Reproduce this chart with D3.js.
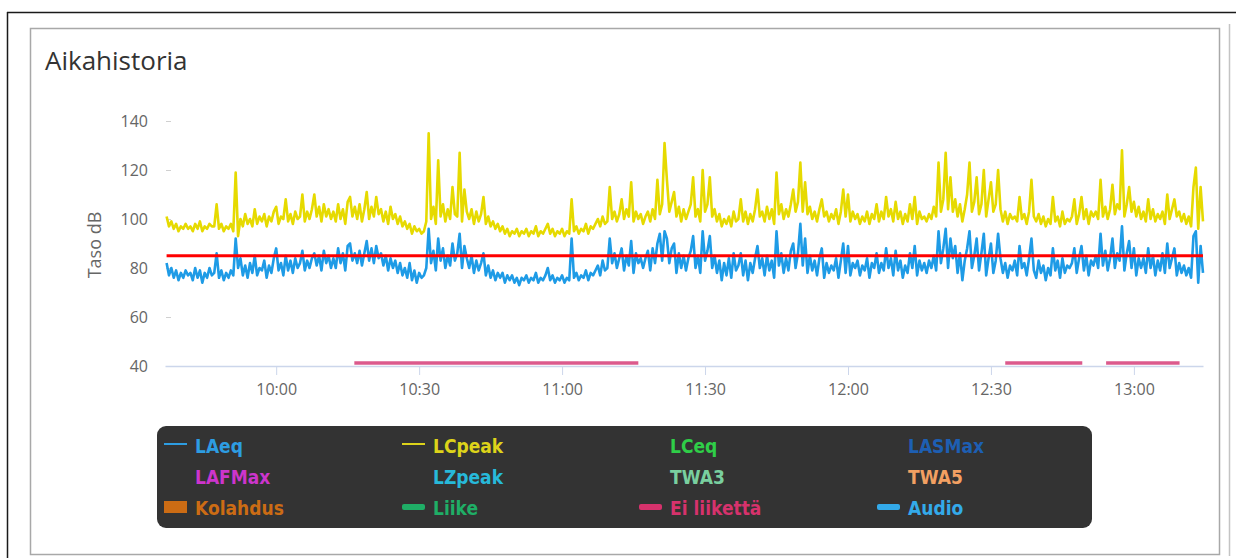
<!DOCTYPE html>
<html><head><meta charset="utf-8">
<script src="https://cdn.jsdelivr.net/npm/d3@7"></script>
<style>body{margin:0;background:#fff}svg{display:block}</style>
</head><body><svg id="c" width="1236" height="558"></svg>
<script>
// ---- data ----
const startTime = "09:37:00";
const stepSeconds = 30;
const lcpeak = [
101,97,99,96,98,95,97,96,98,96,
97,95,98,96,99,95,97,96,98,97,
97,106,96,98,95,97,96,98,95,119,
93,100,97,102,98,100,97,104,98,101,
99,102,97,101,99,103,105,98,101,100,
108,99,102,98,103,100,101,110,99,103,
100,104,110,101,105,99,106,101,104,100,
103,99,106,100,104,98,107,109,101,105,
100,106,99,104,111,100,105,101,109,102,
104,99,103,98,105,100,102,98,101,97,
99,96,98,94,97,95,96,94,95,99,
135,100,105,98,124,101,106,99,104,100,
113,102,101,127,99,112,103,100,104,98,
103,99,102,109,98,101,97,99,96,98,
95,97,94,96,93,95,94,96,93,95,
94,96,93,95,94,97,93,95,94,96,
98,94,96,93,95,94,96,93,95,94,
108,95,97,94,96,95,98,94,97,96,
98,100,97,101,98,99,113,100,103,99,
102,108,100,104,101,115,99,103,100,102,
98,101,103,99,104,100,116,102,106,131,
116,103,107,111,101,105,99,104,100,103,
106,117,101,104,99,120,103,106,117,101,
104,99,102,97,100,98,101,97,103,99,
100,108,99,103,98,102,99,104,112,101,
103,99,105,100,104,98,119,102,106,100,
104,101,106,112,103,107,123,103,115,102,
105,100,103,99,104,108,101,103,99,102,
100,104,98,103,112,101,110,99,103,100,
102,98,101,99,103,98,102,100,106,99,
103,100,109,101,104,99,107,100,103,98,
102,99,106,100,109,98,103,100,101,99,
102,100,105,101,123,103,108,127,104,117,
103,108,101,106,99,104,110,123,103,107,
117,102,106,120,101,108,115,103,106,120,
104,99,103,98,102,100,101,99,109,100,
102,98,103,116,101,99,102,98,101,97,
100,98,109,99,101,97,103,98,100,99,
101,108,98,102,109,100,104,98,103,101,
103,100,116,101,105,100,104,114,102,106,
104,128,101,106,113,103,107,101,105,100,
103,99,108,100,104,99,102,100,103,98,
110,100,104,108,101,103,99,102,98,101,
97,113,121,96,113,99
];
const laeq = [
82,77,80,76,79,75,78,76,79,77,
78,75,80,76,79,74,78,76,80,77,
78,86,76,79,75,78,76,79,77,92,
80,84,77,81,76,82,78,85,77,80,
79,83,76,81,78,84,88,79,82,77,
85,79,83,78,84,80,82,87,79,83,
80,84,86,81,85,79,87,82,85,80,
84,80,88,82,86,79,89,90,83,86,
82,87,81,86,91,83,88,82,89,84,
86,81,85,79,84,80,83,78,82,77,
80,76,82,75,79,74,78,76,77,80,
96,82,87,79,92,83,88,80,85,81,
90,83,86,94,80,89,84,80,85,78,
83,79,82,86,77,81,76,79,75,78,
76,78,74,77,75,77,74,76,73,76,
75,77,74,76,75,78,74,76,75,77,
80,75,77,74,76,75,77,74,76,75,
92,76,78,75,77,76,79,75,78,77,
79,81,77,83,79,80,92,82,86,80,
84,88,79,85,81,91,78,86,82,84,
80,84,87,79,88,82,90,94,83,95,
92,82,88,90,78,86,80,85,79,84,
87,93,80,85,78,95,83,87,93,80,
85,78,83,75,82,77,84,76,86,79,
81,86,77,83,75,82,78,84,89,80,
84,77,85,79,83,76,95,81,86,78,
84,79,87,90,80,86,98,81,92,78,
85,79,83,77,84,88,76,82,78,81,
79,84,76,83,90,78,89,77,82,80,
83,77,81,79,84,76,82,80,86,78,
82,79,88,80,84,77,87,79,83,76,
81,78,86,80,89,77,83,79,82,78,
83,80,85,79,95,82,88,96,80,92,
84,89,78,86,75,83,88,95,80,85,
92,79,86,94,77,84,90,78,83,94,
84,78,82,76,81,79,83,77,89,80,
82,77,84,92,79,76,83,78,81,75,
80,77,88,79,83,76,84,78,81,80,
82,88,78,84,89,79,85,77,83,81,
85,80,94,81,87,79,84,92,80,86,
83,97,79,86,91,80,88,77,84,80,
84,78,88,80,85,77,83,79,86,78,
90,80,84,88,77,82,78,81,77,80,
76,93,95,74,89,78
];
const thresholdDb = 85;
const noMotionStart = ["10:16:24", "12:33:00", "12:54:10"];
const noMotionEnd   = ["11:16:00", "12:49:10", "13:09:35"];
const noMotionLevel = 41.2;
const xDomain = ["09:36:40", "13:14:30"];
const yDomain = [40, 140];
const yTicks = [40, 60, 80, 100, 120, 140];
const xTicks = ["10:00", "10:30", "11:00", "11:30", "12:00", "12:30", "13:00"];
const legendNames  = ["LAeq","LCpeak","LCeq","LASMax","LAFMax","LZpeak","TWA3","TWA5","Kolahdus","Liike","Ei liikettä","Audio"];
const legendColors = ["#2d9de2","#ddd31a","#2fce48","#1d5fb3","#cc35cc","#27b9da","#79cf9f","#f2a062","#cc6c14","#1fae66","#d6326c","#33aaea"];
const legendSymbols = ["line","line","none","none","none","none","none","none","rect","bar","bar","bar"];

// ---- helpers ----
const base = "2020-01-01T";
function T(s){ return new Date(base + (s.length === 5 ? s + ":00" : s)); }
const t0 = T(startTime);
const times = lcpeak.map((_, i) => new Date(t0.getTime() + i * stepSeconds * 1000));

const svg = d3.select("#c");
svg.append("rect").attr("width",1236).attr("height",558).attr("fill","#fff");

// frame
svg.append("line").attr("x1",7).attr("x2",1236).attr("y1",12.5).attr("y2",12.5).attr("stroke","#1a1a1a").attr("stroke-width",1.5);
svg.append("line").attr("x1",7.5).attr("x2",7.5).attr("y1",12).attr("y2",558).attr("stroke","#1a1a1a").attr("stroke-width",1.5);
svg.append("line").attr("x1",1229.5).attr("x2",1229.5).attr("y1",24).attr("y2",556).attr("stroke","#c4c4c4").attr("stroke-width",1.5);
svg.append("rect").attr("x",30.5).attr("y",28.5).attr("width",1189).attr("height",526)
  .attr("fill","#fff").attr("stroke","#a8a8a8").attr("stroke-width",1.5);

// title
svg.append("text").attr("x",45).attr("y",70).text("Aikahistoria")
  .attr("font-family","'Open Sans', sans-serif").attr("font-size",26).attr("fill","#333");

const x = d3.scaleTime().domain(xDomain.map(T)).range([165, 1203]);
const y = d3.scaleLinear().domain(yDomain).range([366, 121]);

// y axis
const gy = svg.append("g").attr("transform","translate(171,0)")
  .call(d3.axisLeft(y).tickValues(yTicks).tickSize(5).tickPadding(18));
gy.select(".domain").remove();
gy.selectAll(".tick line").attr("stroke","#d0d0d0");
gy.selectAll(".tick text").attr("fill","#666").attr("font-size",16)
  .attr("font-family","'Open Sans', sans-serif");

svg.append("text").attr("transform","translate(101,245) rotate(-90)")
  .attr("text-anchor","middle").text("Taso dB")
  .attr("font-family","'Open Sans', sans-serif").attr("font-size",18).attr("fill","#666");

// x axis
const gx = svg.append("g").attr("transform","translate(0,366)")
  .call(d3.axisBottom(x).tickValues(xTicks.map(T)).tickFormat(d3.timeFormat("%H:%M")).tickSize(9).tickPadding(9).tickSizeOuter(0));
gx.select(".domain").attr("stroke","#ccd6eb").attr("stroke-width",1.5);
gx.selectAll(".tick line").attr("stroke","#ccd6eb");
gx.selectAll(".tick text").attr("fill","#666").attr("font-size",16)
  .attr("font-family","'Open Sans', sans-serif");

// series
const line = d3.line().x((d,i) => x(times[i])).y(d => y(d));
svg.append("path").datum(lcpeak).attr("d", line).attr("fill","none")
  .attr("stroke","#e6da00").attr("stroke-width",2.6).attr("stroke-linejoin","round");
svg.append("path").datum(laeq).attr("d", line).attr("fill","none")
  .attr("stroke","#1e9be6").attr("stroke-width",2.6).attr("stroke-linejoin","round");

// threshold
svg.append("line").attr("x1", x(times[0])).attr("x2", x(times[times.length-1]))
  .attr("y1", y(thresholdDb)).attr("y2", y(thresholdDb))
  .attr("stroke","#ff0000").attr("stroke-width",3);

// no-motion bars
svg.append("g").selectAll("line").data(noMotionStart).join("line")
  .attr("x1", d => x(T(d))).attr("x2", (d,i) => x(T(noMotionEnd[i])))
  .attr("y1", y(noMotionLevel)).attr("y2", y(noMotionLevel))
  .attr("stroke","#dc5a8c").attr("stroke-width",3.5);

// legend
svg.append("rect").attr("x",157).attr("y",426).attr("width",935).attr("height",102)
  .attr("rx",9).attr("fill","#333333");
const colX = [164, 402, 639, 877];
const textX = [195, 433, 670, 908];
const rowY = [453, 484, 515];
const lg = svg.append("g").selectAll("g").data(legendNames).join("g")
  .attr("transform", (d,i) => `translate(0,${rowY[Math.floor(i/4)]})`);
lg.each(function(d,i){
  const g = d3.select(this), c = i % 4, col = legendColors[i], s = legendSymbols[i];
  if (s === "line") g.append("line").attr("x1",colX[c]).attr("x2",colX[c]+23).attr("y1",-9).attr("y2",-9).attr("stroke",col).attr("stroke-width",2);
  if (s === "rect") g.append("rect").attr("x",colX[c]).attr("y",-14).attr("width",23).attr("height",12).attr("fill",col);
  if (s === "bar") g.append("rect").attr("x",colX[c]).attr("y",-11).attr("width",23).attr("height",6).attr("rx",2).attr("fill",col);
  g.append("text").attr("x",textX[c]).attr("y",0).text(d).attr("fill",col)
    .attr("font-family","'DejaVu Sans Condensed','DejaVu Sans',sans-serif")
    .attr("font-stretch","condensed")
    .attr("font-weight","bold").attr("font-size",19);
});
</script></body></html>
